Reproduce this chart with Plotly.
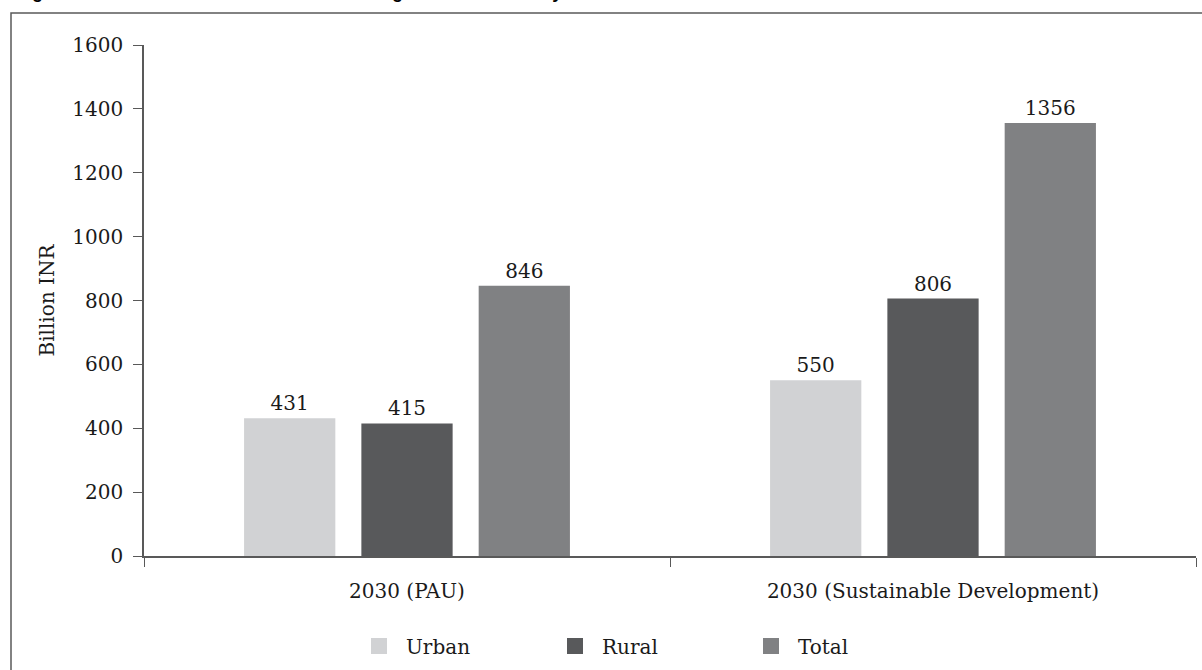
import plotly.graph_objects as go

categories = ["2030 (PAU)", "2030 (Sustainable Development)"]
series_names = ["Urban", "Rural", "Total"]
urban = [431, 550]
rural = [415, 806]
total = [846, 1356]
colors = ["#d1d2d4", "#58595b", "#808183"]
y_ticks = [0, 200, 400, 600, 800, 1000, 1200, 1400, 1600]
title_text = "Figure 9: Investment needs for clean cooking access in India by 2030"

FONT = "DejaVu Serif"
W, H = 1202, 670
L, R, T, B = 144, 6, 45, 113
pw, ph = W - L - R, H - T - B

fig = go.Figure()
for name, vals, col in zip(series_names, [urban, rural, total], colors):
    fig.add_trace(go.Bar(
        x=categories, y=vals, name=name, marker=dict(color=col, line=dict(width=0)),
        text=[str(v) for v in vals], textposition="outside", cliponaxis=False,
        textfont=dict(family=FONT, size=20, color="#1a1a1a"),
        showlegend=False,
    ))
# legend entries (square swatches)
for name, col in zip(series_names, colors):
    fig.add_trace(go.Scatter(
        x=[None], y=[None], mode="markers", name=name,
        marker=dict(symbol="square", size=20, color=col, line=dict(width=0)),
        showlegend=True,
    ))

def px_x(p):
    return (p - L) / pw

def px_y(p):
    return (H - B - p) / ph

fig.update_layout(
    width=W, height=H,
    margin=dict(l=L, r=R, t=T, b=B),
    paper_bgcolor="white", plot_bgcolor="white",
    barmode="group", bargap=0.331, bargroupgap=0.222,
    font=dict(family=FONT, size=20, color="#1a1a1a"),
    showlegend=True,
    legend=dict(orientation="h", x=px_x(352), xanchor="left", y=px_y(646), yanchor="middle",
                entrywidth=137, entrywidthmode="pixels",
                font=dict(family=FONT, size=20, color="#1a1a1a"),
                itemwidth=44, traceorder="normal"),
    xaxis=dict(showline=True, linecolor="#595959", linewidth=1.5, ticks="outside",
               ticklen=9, tickcolor="#595959", tickson="boundaries",
               ticklabelstandoff=16,
               tickfont=dict(family=FONT, size=20), showgrid=False),
    yaxis=dict(range=[0, 1600], tickvals=y_ticks, showline=True, linecolor="#595959",
               linewidth=1.5, ticks="outside", ticklen=9, tickcolor="#595959",
               ticklabelstandoff=6,
               showgrid=False, zeroline=False, tickfont=dict(family=FONT, size=20),
               title=dict(text="Billion INR", font=dict(family=FONT, size=20), standoff=12)),
    shapes=[dict(type="rect", xref="paper", yref="paper",
                 x0=px_x(11), x1=px_x(1260), y0=px_y(13), y1=px_y(720),
                 line=dict(color="#595959", width=1.5), fillcolor="rgba(0,0,0,0)", layer="below")],
    annotations=[dict(text="<b>" + title_text + "</b>", xref="paper", yref="paper",
                      x=px_x(14), y=px_y(4), xanchor="left", yanchor="bottom",
                      showarrow=False, font=dict(family="Liberation Sans", size=18, color="#000"))],
)

fig.write_html("out.html")
